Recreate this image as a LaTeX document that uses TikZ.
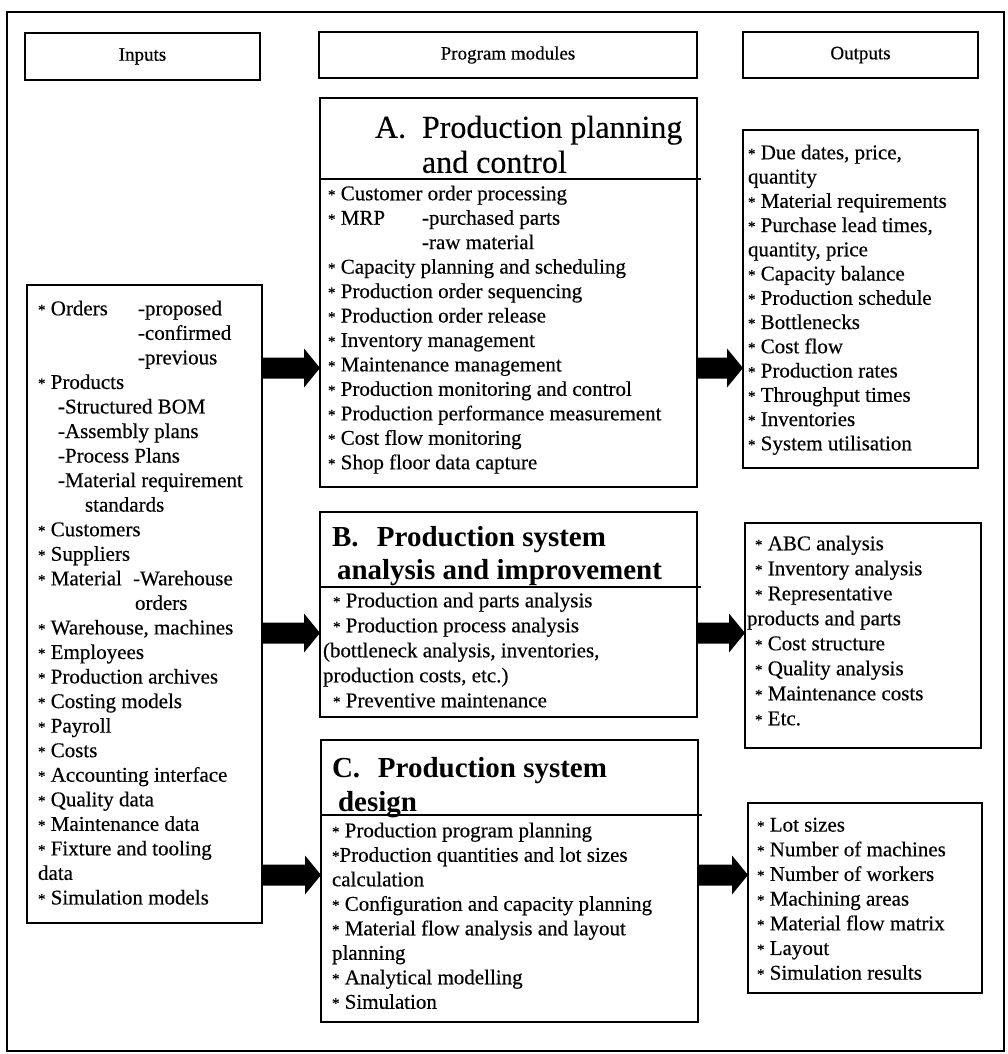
\documentclass[tikz,border=0pt]{standalone}
\usepackage{fontspec}
\setmainfont{Liberation Serif}
\newfontfamily\scanfont{Liberation Serif}[FakeBold=0.35]
\usetikzlibrary{calc}

\tikzset{
  panel/.style={draw, line width=1.5pt, inner sep=0pt, outer sep=0pt, anchor=north west},
  hdr/.style={draw, line width=1.5pt, inner sep=0pt, outer sep=0pt, font=\scanfont\fontsize{19}{22}\selectfont},
  rule/.style={line width=1.5pt},
  listtext/.style={anchor=north west, inner sep=0pt, outer sep=0pt, align=left, font=\scanfont\fontsize{21}{#1}\selectfont},
  titletext/.style={anchor=north west, inner sep=0pt, outer sep=0pt, align=left},
}

% small list star
\newcommand\bul{\raisebox{0.5pt}{\fontsize{15}{15}\selectfont *}}

% thick block arrow from the east side of #1 to the west side of #2 at height #3
\newcommand\fatarrow[3]{%
  \fill ($(#1.east |- 0,#3)+(0,-10.5)$)
     -- ($(#2.west |- 0,#3)+(-16,-10.5)$)
     -- ($(#2.west |- 0,#3)+(-16,-19.5)$)
     -- (#2.west |- 0,#3)
     -- ($(#2.west |- 0,#3)+(-16,19.5)$)
     -- ($(#2.west |- 0,#3)+(-16,10.5)$)
     -- ($(#1.east |- 0,#3)+(0,10.5)$) -- cycle;}

\begin{document}
\begin{tikzpicture}[x=1pt, y=-1pt]
\useasboundingbox (0,0) rectangle (1008,1054);

% outer frame
\draw[rule] (7,12) rectangle (1004,1051);

% column headings
\node[hdr, minimum width=235pt, minimum height=47pt] (hin) at (142.5,56.5) {Inputs};
\node[hdr, minimum width=378pt, minimum height=46pt] (hmod) at (508,55) {Program modules};
\node[hdr, minimum width=235pt, minimum height=46pt] (hout) at (860.5,55) {Outputs};

% panels
\node[panel, minimum width=235pt, minimum height=638pt] (inbox) at (27,285) {};
\node[panel, minimum width=377pt, minimum height=389pt] (boxA) at (320,98) {};
\node[panel, minimum width=377pt, minimum height=205pt] (boxB) at (320,512) {};
\node[panel, minimum width=377pt, minimum height=282pt] (boxC) at (321,740) {};
\node[panel, minimum width=235pt, minimum height=338pt] (outA) at (743,130) {};
\node[panel, minimum width=236pt, minimum height=225pt] (outB) at (745,523) {};
\node[panel, minimum width=234pt, minimum height=190pt] (outC) at (748,803) {};

% title rules inside the module panels
\draw[rule] (boxA.west |- 0,179) -- ($(boxA.east |- 0,179)+(4,0)$);
\draw[rule] (boxB.west |- 0,587) -- ($(boxB.east |- 0,587)+(4,0)$);
\draw[rule] (boxC.west |- 0,815) -- ($(boxC.east |- 0,815)+(4,0)$);

% module titles
\node[titletext, font=\scanfont\fontsize{32}{35}\selectfont] (titA) at (375,115.6)
  {\makebox[47pt][l]{A.}Production planning\\\hspace*{47pt}and control};
\node[titletext, font=\fontsize{29}{33}\selectfont\bfseries] (titB) at (332,526.7)
  {\makebox[45pt][l]{B.}Production system\\\hspace*{5pt}analysis and improvement};
\node[titletext, font=\fontsize{29}{34}\selectfont\bfseries] (titC) at (332,757.7)
  {\makebox[46pt][l]{C.}Production system\\\hspace*{6pt}design};

% inputs
\node[listtext=24.55] (intext) at (38,300.7) {%
\makebox[100pt][l]{\bul\ Orders}-proposed\\
\hspace*{100pt}-confirmed\\
\hspace*{100pt}-previous\\
\bul\ Products\\
\hspace*{20pt}-Structured BOM\\
\hspace*{20pt}-Assembly plans\\
\hspace*{20pt}-Process Plans\\
\hspace*{20pt}-Material requirement\\
\hspace*{47pt}standards\\
\bul\ Customers\\
\bul\ Suppliers\\
\makebox[95pt][l]{\bul\ Material}-Warehouse\\
\hspace*{97pt}orders\\
\bul\ Warehouse, machines\\
\bul\ Employees\\
\bul\ Production archives\\
\bul\ Costing models\\
\bul\ Payroll\\
\bul\ Costs\\
\bul\ Accounting interface\\
\bul\ Quality data\\
\bul\ Maintenance data\\
\bul\ Fixture and tooling\\
data\\
\bul\ Simulation models};

% module A
\node[listtext=24.45] (textA) at (328,185.7) {%
\bul\ Customer order processing\\
\makebox[94pt][l]{\bul\ MRP}-purchased parts\\
\hspace*{94pt}-raw material\\
\bul\ Capacity planning and scheduling\\
\bul\ Production order sequencing\\
\bul\ Production order release\\
\bul\ Inventory management\\
\bul\ Maintenance management\\
\bul\ Production monitoring and control\\
\bul\ Production performance measurement\\
\bul\ Cost flow monitoring\\
\bul\ Shop floor data capture};

% module B
\node[listtext=25] (textB) at (323,592.7) {%
\hspace*{10pt}\bul\ Production and parts analysis\\
\hspace*{10pt}\bul\ Production process analysis\\
(bottleneck analysis, inventories,\\
production costs, etc.)\\
\hspace*{10pt}\bul\ Preventive maintenance};

% module C
\node[listtext=24.5] (textC) at (332,822.7) {%
\bul\ Production program planning\\
\bul{}Production quantities and lot sizes\\
calculation\\
\bul\ Configuration and capacity planning\\
\bul\ Material flow analysis and layout\\
planning\\
\bul\ Analytical modelling\\
\bul\ Simulation};

% outputs
\node[listtext=24.25] (textOA) at (748,144.7) {%
\bul\ Due dates, price,\\
quantity\\
\bul\ Material requirements\\
\bul\ Purchase lead times,\\
quantity, price\\
\bul\ Capacity balance\\
\bul\ Production schedule\\
\bul\ Bottlenecks\\
\bul\ Cost flow\\
\bul\ Production rates\\
\bul\ Throughput times\\
\bul\ Inventories\\
\bul\ System utilisation};

\node[listtext=25] (textOB) at (747,535.7) {%
\hspace*{8pt}\bul\ ABC analysis\\
\hspace*{8pt}\bul\ Inventory analysis\\
\hspace*{8pt}\bul\ Representative\\
products and parts\\
\hspace*{8pt}\bul\ Cost structure\\
\hspace*{8pt}\bul\ Quality analysis\\
\hspace*{8pt}\bul\ Maintenance costs\\
\hspace*{8pt}\bul\ Etc.};

\node[listtext=24.67] (textOC) at (757,817.7) {%
\bul\ Lot sizes\\
\bul\ Number of machines\\
\bul\ Number of workers\\
\bul\ Machining areas\\
\bul\ Material flow matrix\\
\bul\ Layout\\
\bul\ Simulation results};

% flow arrows
\fatarrow{inbox}{boxA}{368}
\fatarrow{boxA}{outA}{368}
\fatarrow{inbox}{boxB}{633}
\fatarrow{boxB}{outB}{633}
\fatarrow{inbox}{boxC}{875}
\fatarrow{boxC}{outC}{875}
\end{tikzpicture}
\end{document}
